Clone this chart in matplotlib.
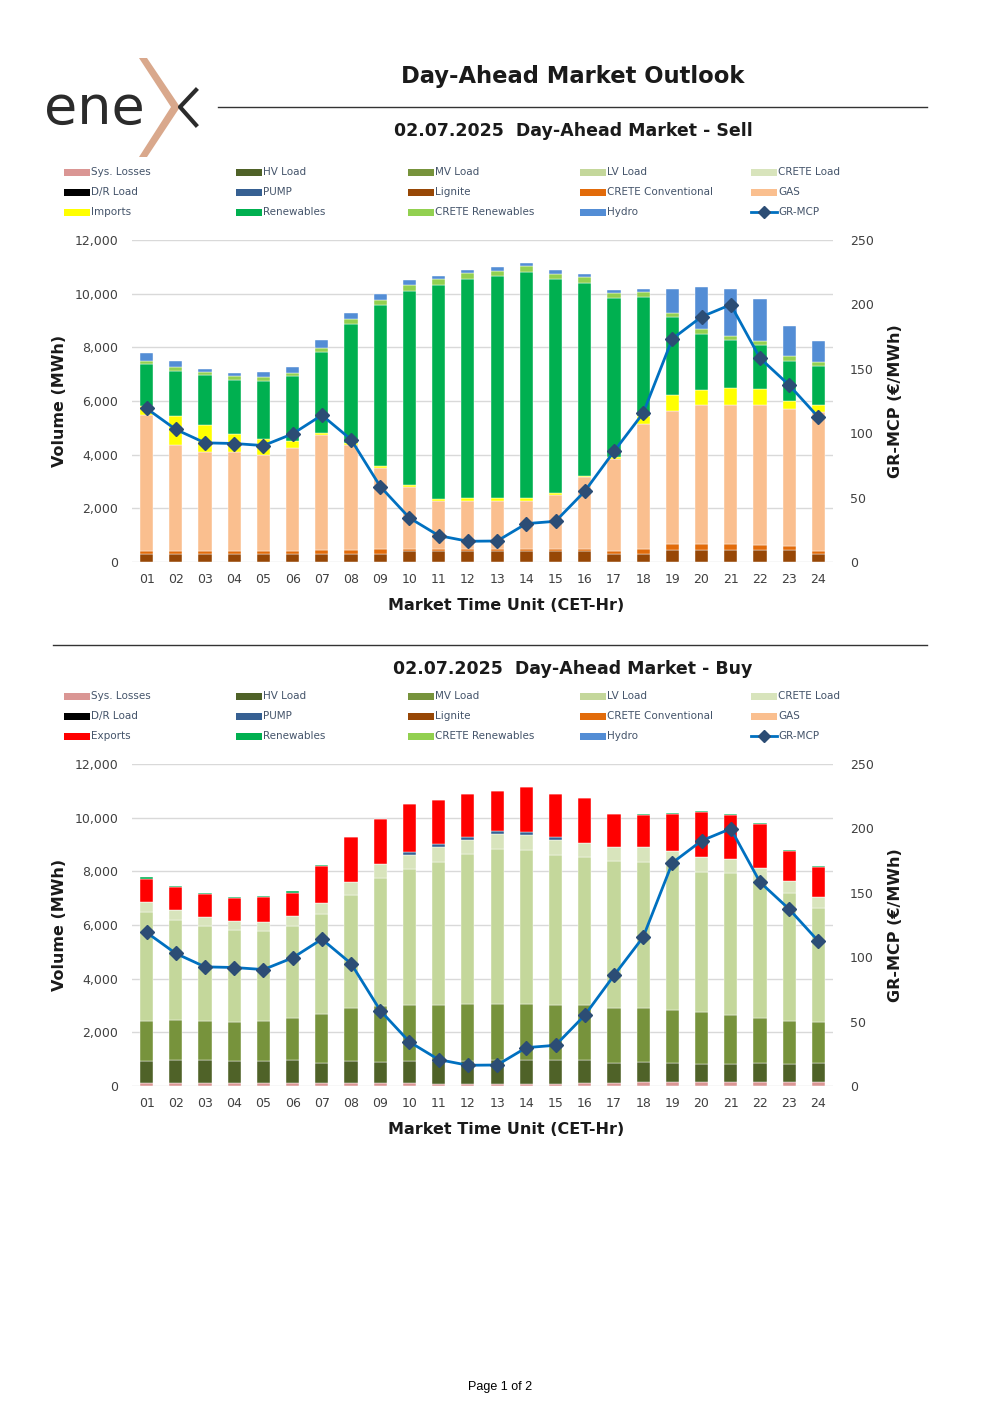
import numpy as np
import matplotlib
matplotlib.use("Agg")
from matplotlib import pyplot as plt
from matplotlib.patches import Rectangle, Polygon
from matplotlib.lines import Line2D

# --- data -------------------------------------------------------------
hours = ["%02d" % h for h in range(1, 25)]

sell_lignite = [298, 298, 298, 298, 298, 298, 298, 298, 298, 398, 398, 398,
                398, 398, 398, 398, 298, 298, 435, 435, 435, 435, 435, 298]
sell_crete_conv = [124, 99, 99, 99, 99, 99, 137, 162, 187, 99, 99, 99,
                   99, 99, 99, 99, 112, 199, 249, 224, 224, 187, 149, 112]
sell_gas = [5073, 3979, 3693, 3693, 3606, 3855, 4315, 3892, 3022, 2313, 1791, 1791,
            1791, 1791, 2014, 2674, 3432, 4663, 4949, 5185, 5185, 5223, 5123, 5185]
sell_imports = [311, 1057, 1032, 696, 584, 274, 62, 87, 62, 75, 75, 99,
                87, 87, 75, 50, 62, 274, 572, 584, 659, 584, 298, 261]
sell_renew = [1579, 1679, 1840, 2014, 2176, 2400, 3022, 4414, 5994, 7225, 7958, 8170,
              8282, 8431, 7971, 7187, 5944, 4439, 2922, 2077, 1766, 1654, 1492, 1442]
sell_crete_ren = [99, 137, 112, 149, 124, 124, 149, 187, 187, 199, 211, 199,
                  199, 211, 187, 199, 187, 187, 162, 162, 149, 149, 162, 149]
sell_hydro = [311, 224, 137, 112, 199, 224, 274, 236, 224, 199, 137, 124,
              124, 112, 137, 124, 87, 99, 870, 1567, 1741, 1567, 1132, 783]

buy_sys = [124, 124, 112, 112, 112, 112, 124, 112, 112, 100, 87, 87,
           87, 87, 87, 100, 112, 137, 149, 149, 162, 149, 137, 137]
buy_hv = [797, 834, 846, 834, 834, 846, 747, 809, 784, 834, 846, 846,
          871, 871, 871, 871, 759, 747, 710, 685, 672, 697, 685, 722]
buy_mv = [1506, 1494, 1456, 1444, 1469, 1581, 1817, 1992, 2079, 2079, 2091, 2116,
          2116, 2104, 2079, 2041, 2041, 2041, 1979, 1917, 1830, 1680, 1606, 1531]
buy_lv = [4046, 3747, 3548, 3423, 3373, 3411, 3710, 4220, 4780, 5079, 5340, 5589,
          5763, 5751, 5589, 5527, 5477, 5427, 5402, 5228, 5278, 5054, 4768, 4232]
buy_crete = [373, 361, 336, 336, 336, 373, 436, 485, 510, 523, 548, 548,
             560, 548, 548, 523, 523, 548, 523, 548, 535, 548, 461, 423]
buy_pump = [0, 0, 0, 0, 0, 0, 0, 0, 0, 124, 100, 100,
            100, 112, 100, 0, 0, 0, 0, 0, 0, 0, 0, 0]
buy_exports = [884, 859, 846, 859, 909, 884, 1382, 1643, 1693, 1768, 1643, 1593,
               1481, 1656, 1606, 1656, 1220, 1207, 1369, 1668, 1618, 1618, 1083, 1108]
buy_renew = [50, 50, 37, 37, 37, 50, 37, 0, 0, 0, 0, 0,
             0, 0, 0, 0, 0, 37, 37, 37, 37, 37, 37, 50]

gr_mcp = [119.2, 102.9, 92.5, 92.0, 90.4, 99.5, 114.0, 95.1, 58.6, 34.2, 20.5, 16.1,
          16.3, 29.8, 31.6, 54.9, 85.8, 115.6, 173.3, 190.4, 199.8, 158.3, 137.3, 112.4]

# --- colours ----------------------------------------------------------
C = {
    "Sys. Losses": "#DA9694", "HV Load": "#4F6228", "MV Load": "#77933C",
    "LV Load": "#C4D79B", "CRETE Load": "#D8E4BC", "D/R Load": "#000000",
    "PUMP": "#366092", "Lignite": "#974706", "CRETE Conventional": "#E26B0A",
    "GAS": "#FABF8F", "Imports": "#FFFF00", "Exports": "#FF0000",
    "Renewables": "#00B050", "CRETE Renewables": "#92D050", "Hydro": "#538DD5",
}
LINE_C = "#0070C0"
MARK_C = "#2C4D75"
TXT = "#404040"
LEG_TXT = "#44546A"

W, H = 1000, 1415
fig = plt.figure(figsize=(W / 100, H / 100), dpi=100)


def fx(px):
    return px / W


def fy(py):
    return 1 - py / H


# --- logo -------------------------------------------------------------
fig.text(fx(44), fy(124), "ene", fontsize=39, color="#2B2B2B",
         family="DejaVu Sans", va="baseline", ha="left")
fig.add_artist(Polygon([(fx(139), fy(58)), (fx(147), fy(58)), (fx(180), fy(107)),
                        (fx(147), fy(157)), (fx(139), fy(157)), (fx(171), fy(107))],
                       closed=True, transform=fig.transFigure, color="#D9A88C", lw=0))
fig.add_artist(Line2D([fx(196), fx(180), fx(196)], [fy(90), fy(107), fy(125)],
                      transform=fig.transFigure, color="#2B2B2B", lw=3))

fig.text(fx(573), fy(76), "Day-Ahead Market Outlook", fontsize=16.3, weight="bold",
         color="#1A1A1A", ha="center", va="center")
fig.add_artist(Line2D([fx(218), fx(927)], [fy(107), fy(107)],
                      transform=fig.transFigure, color="#333333", lw=1))
fig.add_artist(Line2D([fx(53), fx(927)], [fy(645), fy(645)],
                      transform=fig.transFigure, color="#333333", lw=1))
fig.text(fx(500), fy(1387), "Page 1 of 2", fontsize=9, color="#000000",
         ha="center", va="center", family="Liberation Sans")


def legend(y0, third):
    names = [["Sys. Losses", "HV Load", "MV Load", "LV Load", "CRETE Load"],
             ["D/R Load", "PUMP", "Lignite", "CRETE Conventional", "GAS"],
             [third, "Renewables", "CRETE Renewables", "Hydro", "GR-MCP"]]
    xs = [64, 236, 408, 580, 751]
    for r, row in enumerate(names):
        y = y0 + r * 20
        for c, name in enumerate(row):
            x = xs[c]
            if name == "GR-MCP":
                fig.add_artist(Line2D([fx(x), fx(x + 26)], [fy(y), fy(y)],
                                      transform=fig.transFigure, color=LINE_C, lw=2))
                fig.add_artist(Line2D([fx(x + 13)], [fy(y)], transform=fig.transFigure,
                                      marker="D", ms=6, color=MARK_C, lw=0))
            else:
                fig.add_artist(Rectangle((fx(x), fy(y + 3.5)), fx(26), 7 / H,
                                         transform=fig.transFigure, color=C[name], lw=0))
            fig.text(fx(x + 27), fy(y), name, fontsize=7.5, color=LEG_TXT,
                     ha="left", va="center")


def chart(top, title_y, title, layers):
    fig.text(fx(573), fy(title_y), title, fontsize=12.5, weight="bold",
             color="#1A1A1A", ha="center", va="center")
    ax = fig.add_axes([fx(132), fy(top + 322), fx(701), 322 / H])
    x = np.arange(len(hours))
    bottom = np.zeros(len(hours))
    for name, vals in layers:
        vals = np.array(vals, dtype=float)
        ax.bar(x, vals, 0.45, bottom=bottom, color=C[name], edgecolor="white",
               linewidth=0.3, zorder=2)
        bottom += vals
    ax.set_xlim(-0.5, len(hours) - 0.5)
    ax.set_ylim(0, 12000)
    ax.set_yticks(np.arange(0, 12001, 2000))
    ax.set_yticklabels(["{:,}".format(v) for v in range(0, 12001, 2000)])
    ax.set_xticks(x)
    ax.set_xticklabels(hours)
    ax.grid(axis="y", color="#D9D9D9", lw=1, zorder=0)
    ax.tick_params(length=0, labelsize=9, colors=TXT)
    ax.tick_params(axis="y", pad=10)
    ax.tick_params(axis="x", pad=8)
    for s in ax.spines.values():
        s.set_visible(False)

    ax2 = ax.twinx()
    ax2.plot(x, gr_mcp, color=LINE_C, lw=2, marker="D", ms=7.5,
             mfc=MARK_C, mec=MARK_C, zorder=5)
    ax2.set_ylim(0, 250)
    ax2.set_yticks(np.arange(0, 251, 50))
    ax2.tick_params(length=0, labelsize=9, colors=TXT, pad=12)
    for s in ax2.spines.values():
        s.set_visible(False)

    fig.text(fx(60), fy(top + 161), "Volume (MWh)", rotation=90, fontsize=11.5,
             weight="bold", color="#1A1A1A", ha="center", va="center")
    fig.text(fx(896), fy(top + 161), "GR-MCP (€/MWh)", rotation=90, fontsize=11.5,
             weight="bold", color="#1A1A1A", ha="center", va="center")
    fig.text(fx(506), fy(top + 366), "Market Time Unit (CET-Hr)", fontsize=11.5,
             weight="bold", color="#1A1A1A", ha="center", va="center")


legend(172, "Imports")
chart(240, 131, "02.07.2025  Day-Ahead Market - Sell",
      [("Lignite", sell_lignite), ("CRETE Conventional", sell_crete_conv),
       ("GAS", sell_gas), ("Imports", sell_imports), ("Renewables", sell_renew),
       ("CRETE Renewables", sell_crete_ren), ("Hydro", sell_hydro)])

legend(696, "Exports")
chart(764, 669, "02.07.2025  Day-Ahead Market - Buy",
      [("Sys. Losses", buy_sys), ("HV Load", buy_hv), ("MV Load", buy_mv),
       ("LV Load", buy_lv), ("CRETE Load", buy_crete), ("PUMP", buy_pump),
       ("Exports", buy_exports), ("Renewables", buy_renew)])

fig.savefig("out.png", dpi=100)
